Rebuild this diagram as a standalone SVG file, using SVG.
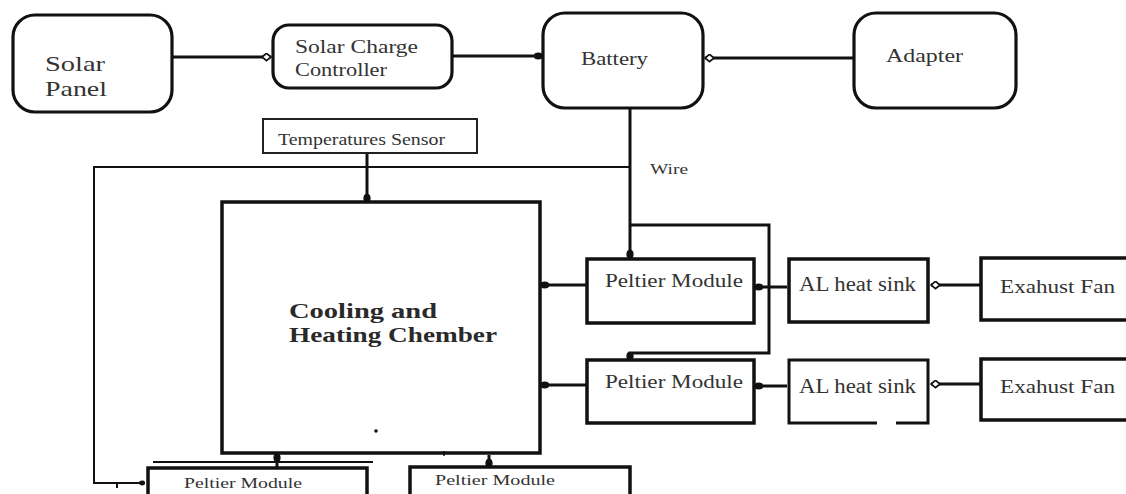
<svg xmlns="http://www.w3.org/2000/svg" width="1126" height="494" viewBox="0 0 1126 494">
<style>
.rb{fill:#fff;stroke:#111;stroke-width:3.2}
.bx{fill:#fff;stroke:#111;stroke-width:3.5}
.thin{fill:#fff;stroke:#222;stroke-width:2}
.ln{fill:none;stroke:#111;stroke-width:3}
.lt{fill:none;stroke:#111;stroke-width:2}
text{font-family:"Liberation Serif","Times New Roman",serif;fill:#333}
.b{font-weight:bold;fill:#2a2a2a}
</style>
<defs>
<marker id="dot" viewBox="0 0 10 10" refX="8" refY="5" markerWidth="3" markerHeight="3" orient="auto" markerUnits="strokeWidth">
<ellipse cx="5" cy="5" rx="5" ry="4" fill="#111"/>
</marker>
<marker id="od" viewBox="0 0 12 10" refX="11" refY="5" markerWidth="3.6" markerHeight="3" orient="auto" markerUnits="strokeWidth">
<path d="M1,5 L6,1 L11,5 L6,9 Z" fill="#fff" stroke="#111" stroke-width="2"/>
</marker>
</defs>
<rect width="1126" height="494" fill="#fff"/>

<g id="connectors">
<line class="ln" x1="172" y1="57" x2="271" y2="57" marker-end="url(#od)"/>
<line class="ln" x1="452" y1="56" x2="541" y2="56" marker-end="url(#dot)"/>
<line class="ln" x1="854" y1="58" x2="705" y2="58" marker-end="url(#od)"/>
<polyline class="ln" points="630,108 630,257" marker-end="url(#dot)"/>
<polyline class="lt" points="630,167 94,167 94,483 144,483" marker-end="url(#dot)"/>
<line class="lt" x1="117" y1="483" x2="117" y2="488"/>
<polyline class="ln" points="630,225 769,225 769,353 630,353 630,359" marker-end="url(#dot)"/>
<line class="ln" x1="367" y1="153" x2="367" y2="201" marker-end="url(#dot)"/>
<line class="ln" x1="587" y1="285" x2="542" y2="285" marker-end="url(#dot)"/>
<line class="ln" x1="587" y1="385" x2="542" y2="385" marker-end="url(#dot)"/>
<line class="ln" x1="787" y1="287" x2="756" y2="287" marker-end="url(#dot)"/>
<line class="ln" x1="787" y1="386" x2="756" y2="386" marker-end="url(#dot)"/>
<line class="ln" x1="981" y1="285" x2="931" y2="285" marker-end="url(#od)"/>
<line class="ln" x1="981" y1="384" x2="931" y2="384" marker-end="url(#od)"/>
<line class="ln" x1="277" y1="468" x2="277" y2="455" marker-end="url(#dot)"/>
<line class="ln" x1="489" y1="455" x2="489" y2="466" marker-end="url(#dot)"/>
<line class="lt" x1="153" y1="462" x2="373" y2="462"/>
</g>

<g id="solar-panel">
<rect class="rb" x="13" y="15" width="159" height="97" rx="22"/>
<text x="45" y="71" font-size="22" textLength="60" lengthAdjust="spacingAndGlyphs">Solar</text>
<text x="45" y="96" font-size="22" textLength="62" lengthAdjust="spacingAndGlyphs">Panel</text>
</g>

<g id="solar-charge-controller">
<rect class="rb" x="273" y="25" width="179" height="63" rx="16"/>
<text x="295" y="53" font-size="19" textLength="123" lengthAdjust="spacingAndGlyphs">Solar Charge</text>
<text x="295" y="76" font-size="19" textLength="92" lengthAdjust="spacingAndGlyphs">Controller</text>
</g>

<g id="battery">
<rect class="rb" x="543" y="13" width="160" height="95" rx="22"/>
<text x="581" y="65" font-size="18" textLength="67" lengthAdjust="spacingAndGlyphs">Battery</text>
</g>

<g id="adapter">
<rect class="rb" x="854" y="13" width="162" height="95" rx="22"/>
<text x="886" y="62" font-size="18" textLength="77" lengthAdjust="spacingAndGlyphs">Adapter</text>
</g>

<g id="temperature-sensor">
<rect class="thin" x="263" y="119" width="214" height="34"/>
<text x="278" y="145" font-size="16" fill="#444" textLength="167" lengthAdjust="spacingAndGlyphs">Temperatures Sensor</text>
</g>

<g id="wire-label">
<text x="650" y="174" font-size="14" fill="#444" textLength="38" lengthAdjust="spacingAndGlyphs">Wire</text>
</g>

<g id="chamber">
<rect class="bx" x="222" y="202" width="318" height="251"/>
<text class="b" x="289" y="318" font-size="21" textLength="148" lengthAdjust="spacingAndGlyphs">Cooling  and</text>
<text class="b" x="289" y="342" font-size="21" textLength="208" lengthAdjust="spacingAndGlyphs">Heating Chember</text>
<circle cx="376" cy="431" r="1.8" fill="#111"/>
<line x1="444" y1="451" x2="444" y2="456" stroke="#111" stroke-width="1.5"/>
</g>

<g id="peltier-1">
<rect class="bx" x="587" y="259" width="167" height="64"/>
<text x="605" y="287" font-size="19" textLength="138" lengthAdjust="spacingAndGlyphs">Peltier Module</text>
</g>

<g id="peltier-2">
<rect class="bx" x="587" y="360" width="167" height="63"/>
<text x="605" y="388" font-size="19" textLength="138" lengthAdjust="spacingAndGlyphs">Peltier Module</text>
</g>

<g id="heat-sink-1">
<rect class="bx" x="789" y="259" width="139" height="63"/>
<text x="799" y="291" font-size="20" textLength="117" lengthAdjust="spacingAndGlyphs">AL heat sink</text>
</g>

<g id="heat-sink-2">
<path class="ln" d="M877,423 H789 V360 H928 V423 H896" stroke-width="3.5"/>
<text x="799" y="393" font-size="20" textLength="117" lengthAdjust="spacingAndGlyphs">AL heat sink</text>
</g>

<g id="exhaust-fan-1">
<rect class="bx" x="981" y="258" width="150" height="62"/>
<text x="1000" y="293" font-size="19" textLength="115" lengthAdjust="spacingAndGlyphs">Exahust Fan</text>
</g>

<g id="exhaust-fan-2">
<rect class="bx" x="981" y="359" width="150" height="61"/>
<text x="1000" y="393" font-size="19" textLength="115" lengthAdjust="spacingAndGlyphs">Exahust Fan</text>
</g>

<g id="peltier-bottom-left">
<rect class="bx" x="148" y="468" width="219" height="40"/>
<text x="184" y="488" font-size="15" textLength="118" lengthAdjust="spacingAndGlyphs">Peltier Module</text>
</g>

<g id="peltier-bottom-right">
<rect class="bx" x="410" y="467" width="220" height="40"/>
<text x="435" y="485" font-size="15" textLength="120" lengthAdjust="spacingAndGlyphs">Peltier Module</text>
</g>
</svg>
